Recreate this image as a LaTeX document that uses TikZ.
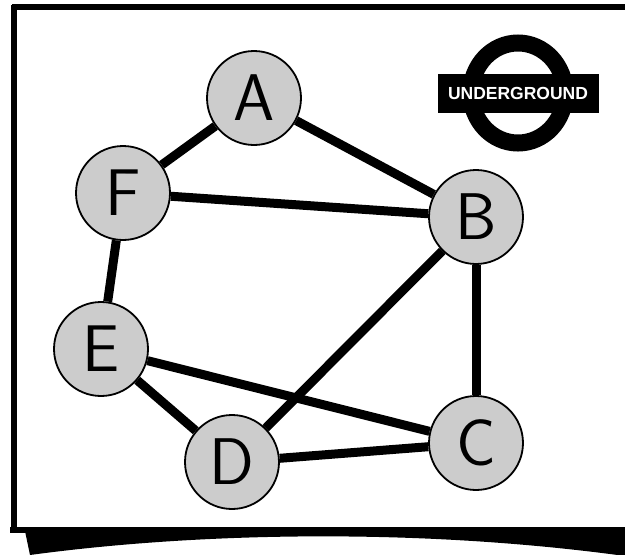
\documentclass[tikz,border=0pt]{standalone}
\usepackage{fontspec}
\newfontfamily\logofont{Liberation Sans}
\usetikzlibrary{positioning,backgrounds}

\definecolor{stationgray}{HTML}{CCCCCC}

\tikzset{
  station/.style={circle, draw=black, line width=1.8pt, fill=stationgray,
    minimum size=94pt, inner sep=0pt,
    font=\sffamily\fontsize{66}{66}\selectfont},
  track/.style={line width=9pt},
  frame/.style={line width=6.5pt},
}

\begin{document}
\begin{tikzpicture}[x=1pt, y=-1pt, node distance=100pt, on grid]
\useasboundingbox (0,0) rectangle (625,555);

	\node [station] at (254,98) (A) {A};
	\node [station, below left=95pt and 131pt of A] (F) {F};
	\node [station, below right=119pt and 222pt of A] (B) {B};

	\node [station, below left=156pt and 22pt of F] (E) {E};
	\node [station, below right=113pt and 131pt of E] (D) {D};
	\node [station, below=226pt of B] (C) {C};

	\begin{scope}[on background layer]
	\draw [track] (A) -- (F);
	\draw [track] (A) -- (B);
	\draw [track] (F) -- (B);
	\draw [track] (F) -- (E);
	\draw [track] (E) -- (C);
	\draw [track] (E) -- (D);
	\draw [track] (D) -- (B);
	\draw [track] (D) -- (C);
	\draw [track] (B) -- (C);
	\end{scope}

	% roundel
	\coordinate (roundel) at (518,93);
	\draw [line width=17pt] (roundel) ellipse [x radius=47, y radius=50];
	\node [fill=black, text=white, minimum width=161pt, minimum height=39pt,
	  inner sep=0pt, font=\logofont\bfseries\fontsize{17.5}{17.5}\selectfont]
	  (logo) at (roundel) {UNDERGROUND};

	% frame
	\draw [frame] (12,7) -- (625,7);
	\draw [frame] (14,5) -- (14,533);
	\draw [frame] (10,530) -- (625,530);
	\fill (25,531) -- (30,555) .. controls (200,532) and (420,528) .. (625,556)
	  -- (625,531) -- cycle;

\end{tikzpicture}
\end{document}
